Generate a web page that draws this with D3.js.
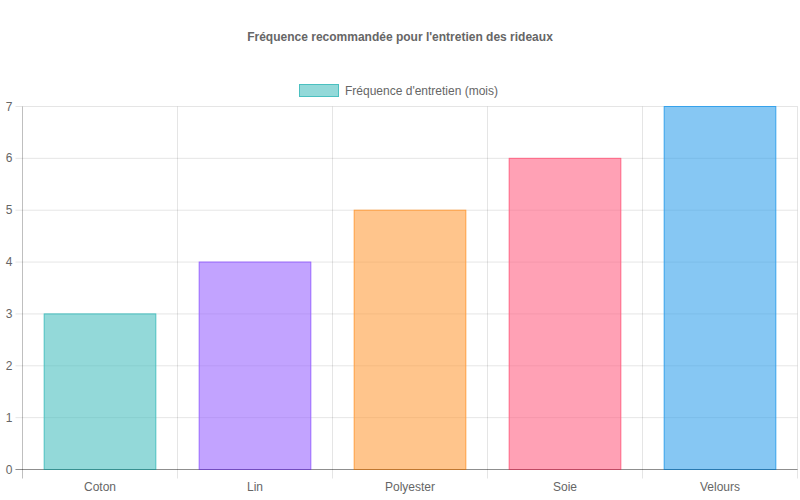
<!DOCTYPE html>
<html><head><meta charset="utf-8">
<script src="https://cdn.jsdelivr.net/npm/d3@7"></script>
<style>body{margin:0;background:#fff}svg{display:block;font-family:"Liberation Sans",Arial,Helvetica,sans-serif}</style>
</head><body><svg id="c" width="800" height="500"></svg>
<script>
const categories = ["Coton", "Lin", "Polyester", "Soie", "Velours"];
const values = [3, 4, 5, 6, 7];
const yTicks = [0, 1, 2, 3, 4, 5, 6, 7];
const fills = ["rgba(75,192,192,0.6)", "rgba(153,102,255,0.6)", "rgba(255,159,64,0.6)", "rgba(255,99,132,0.6)", "rgba(54,162,235,0.6)"];
const strokes = ["rgb(75,192,192)", "rgb(153,102,255)", "rgb(255,159,64)", "rgb(255,99,132)", "rgb(54,162,235)"];
const title = "Fréquence recommandée pour l'entretien des rideaux";
const seriesName = "Fréquence d'entretien (mois)";

const svg = d3.select("#c");
const L = 22.5, R = 797.5, T = 106.5, B = 469.5;
const x = d3.scaleBand().domain(categories).range([L, R]).paddingInner(0).paddingOuter(0);
const y = d3.scaleLinear().domain([0, 7]).range([B, T]);

// title
svg.append("text").attr("x", 400).attr("y", 41).attr("text-anchor", "middle")
  .attr("font-size", 12).attr("font-weight", "bold").attr("fill", "#666").text(title);
// legend
svg.append("rect").attr("x", 299.5).attr("y", 84.5).attr("width", 39).attr("height", 12)
  .attr("fill", fills[0]).attr("stroke", strokes[0]).attr("stroke-width", 1);
svg.append("text").attr("x", 345).attr("y", 94.5).attr("font-size", 12).attr("fill", "#666").text(seriesName);

// horizontal grid
const g = svg.append("g");
yTicks.forEach(t => {
  g.append("line").attr("x1", L - 7).attr("x2", R).attr("y1", y(t)).attr("y2", y(t))
    .attr("stroke", t === 0 ? "rgba(0,0,0,0.25)" : "rgba(0,0,0,0.1)");
  g.append("text").attr("x", L - 10).attr("y", y(t) + 4).attr("text-anchor", "end")
    .attr("font-size", 12).attr("fill", "#666").text(t);
});
// vertical grid at band boundaries
const bounds = categories.map(c => x(c)).concat([R]);
bounds.forEach((b, i) => {
  g.append("line").attr("x1", b).attr("x2", b).attr("y1", T).attr("y2", B + 9)
    .attr("stroke", i === 0 ? "rgba(0,0,0,0.25)" : "rgba(0,0,0,0.1)");
});
// x labels
categories.forEach(c => {
  g.append("text").attr("x", x(c) + x.bandwidth() / 2).attr("y", 491).attr("text-anchor", "middle")
    .attr("font-size", 12).attr("fill", "#666").text(c);
});
// bars
const bw = x.bandwidth() * 0.72;
svg.append("g").selectAll("rect").data(values).join("rect")
  .attr("x", (d, i) => x(categories[i]) + (x.bandwidth() - bw) / 2)
  .attr("width", bw)
  .attr("y", d => y(d))
  .attr("height", d => y(0) - y(d))
  .attr("fill", (d, i) => fills[i])
  .attr("stroke", (d, i) => strokes[i]).attr("stroke-width", 1);
// redraw baseline on top
svg.append("line").attr("x1", L - 7).attr("x2", R).attr("y1", B).attr("y2", B).attr("stroke", "rgba(0,0,0,0.25)");
</script></body></html>
